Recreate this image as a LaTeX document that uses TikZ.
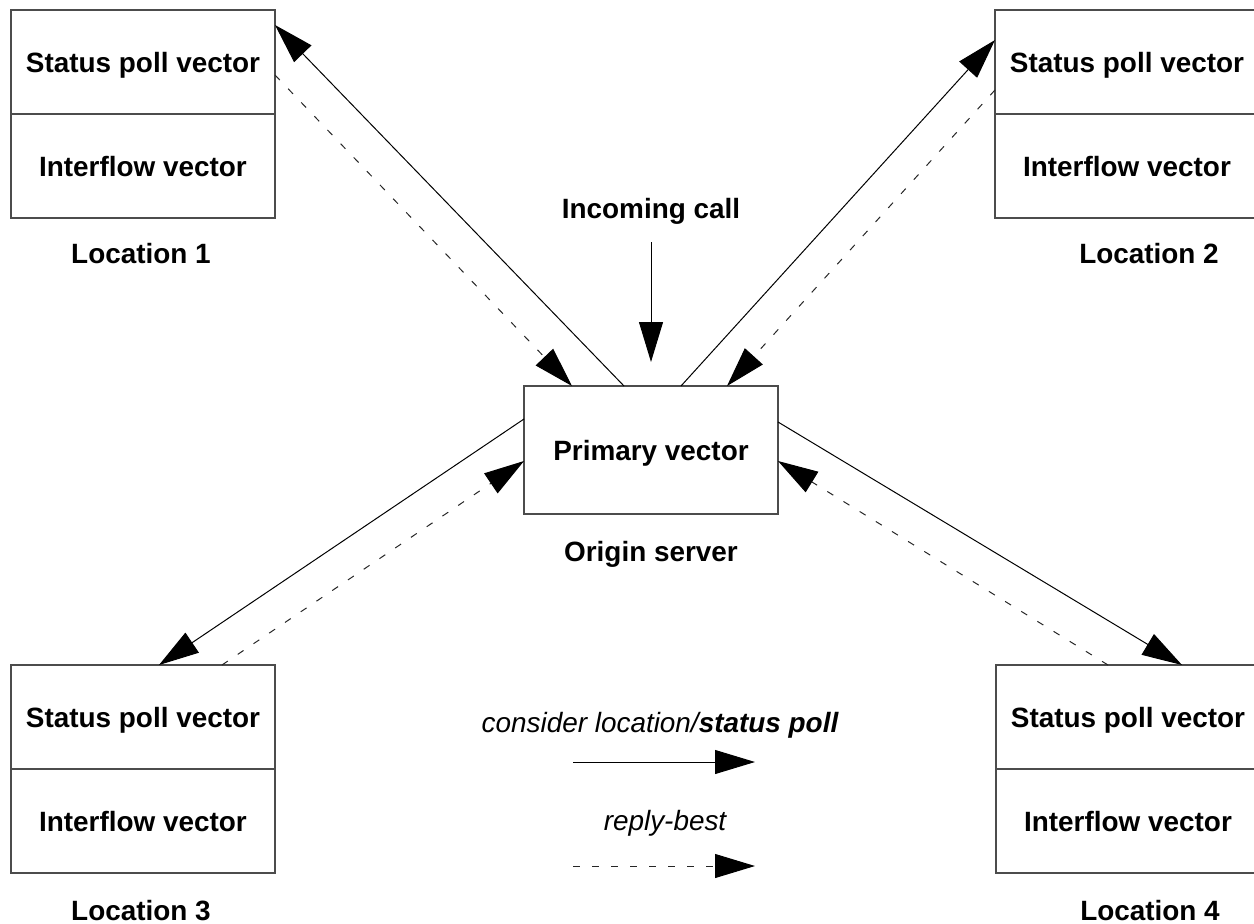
\documentclass[tikz,border=0pt]{standalone}
\usepackage{fontspec}
\setmainfont{Liberation Sans}
\usetikzlibrary{arrows.meta,calc}

\newcommand\diagfont{\fontsize{27.9}{33}\selectfont}

\tikzset{
  vpart/.style={draw=black!70, line width=1.2pt, minimum width=264pt,
    minimum height=104pt, inner sep=0pt, outer sep=0pt,
    font=\diagfont\bfseries, text height=20pt, text depth=0pt},
  lbl/.style={font=\diagfont\bfseries, anchor=base, inner sep=0pt},
  legendtext/.style={font=\diagfont\itshape, anchor=base, inner sep=0pt},
  flow/.style={line width=1pt, black, -{Triangle[length=40pt,width=24pt,color=black]}},
  reply/.style={flow, black!85, dash pattern=on 7pt off 12pt},
}

\begin{document}
\begin{tikzpicture}[x=1pt,y=-1pt]
\useasboundingbox (0,0) rectangle (1254,924);

% origin server
\node[vpart, minimum width=254pt, minimum height=128pt] (prim) at (651,450) {Primary vector};
\node[lbl] (origin) at (651,561) {Origin server};
\node[lbl] (incoming) at (651,218) {Incoming call};

% the four locations
\node[vpart, anchor=north west] (l1s) at (11,10) {Status poll vector};
\node[vpart, anchor=north] (l1i) at (l1s.south) {Interflow vector};
\node[lbl] (loc1) at (141,263) {Location 1};

\node[vpart, anchor=north west] (l2s) at (995,10) {Status poll vector};
\node[vpart, anchor=north] (l2i) at (l2s.south) {Interflow vector};
\node[lbl] (loc2) at (1149,263) {Location 2};

\node[vpart, anchor=north west] (l3s) at (11,665) {Status poll vector};
\node[vpart, anchor=north] (l3i) at (l3s.south) {Interflow vector};
\node[lbl] (loc3) at (141,920) {Location 3};

\node[vpart, anchor=north west] (l4s) at (996,665) {Status poll vector};
\node[vpart, anchor=north] (l4i) at (l4s.south) {Interflow vector};
\node[lbl] (loc4) at (1150,920) {Location 4};

% incoming call
\coordinate (callstart) at (651,242);
\draw[flow] (callstart) -- ($(prim.north)+(0,-24)$);

% status polls and replies
\draw[flow]  ($(prim.north west)+(100,0)$) -- ($(l1s.north east)+(0,15)$);
\draw[reply] ($(l1s.north east)+(0,65)$) -- ($(prim.north west)+(48,0)$);

\draw[flow]  ($(prim.north west)+(157,0)$) -- ($(l2s.north west)+(0,30)$);
\draw[reply] ($(l2s.north west)+(0,80)$) -- ($(prim.north west)+(203,0)$);

\draw[flow]  ($(prim.north west)+(0,33)$) -- ($(l3s.north west)+(148,0)$);
\draw[reply] ($(l3s.north west)+(211,0)$) -- ($(prim.north west)+(0,75)$);

\draw[flow]  ($(prim.north east)+(0,36)$) -- ($(l4s.north west)+(186,0)$);
\draw[reply] ($(l4s.north west)+(112,0)$) -- ($(prim.north east)+(0,75)$);

% legend
\node[legendtext] (legpoll) at (660,732) {consider location/\bfseries status poll};
\coordinate (pollA) at (573,762);
\coordinate (pollB) at (755,762);
\draw[flow] (pollA) -- (pollB);

\node[legendtext] (legreply) at (665,830) {reply-best};
\coordinate (replyA) at (573,866);
\coordinate (replyB) at (755,866);
\draw[reply] (replyA) -- (replyB);
\end{tikzpicture}
\end{document}
